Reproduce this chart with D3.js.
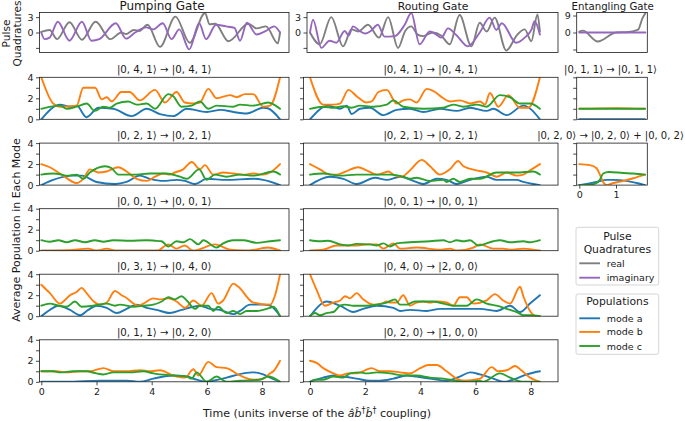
<!DOCTYPE html>
<html><head><meta charset="utf-8">
<script src="https://cdn.jsdelivr.net/npm/d3@7"></script>
<style>body{margin:0;background:#fff}</style>
</head><body>
<svg id="c" width="685" height="421" xmlns="http://www.w3.org/2000/svg"></svg>
<script>
// ---------------- DATA ----------------
const columnTitles = ["Pumping Gate", "Routing Gate", "Entangling Gate"];
const pumpTitles = ["|0, 4, 1⟩ → |0, 4, 1⟩", "|0, 2, 1⟩ → |0, 2, 1⟩", "|0, 0, 1⟩ → |0, 0, 1⟩", "|0, 3, 1⟩ → |0, 4, 0⟩", "|0, 1, 1⟩ → |0, 2, 0⟩"];
const routeTitles = ["|0, 4, 1⟩ → |0, 4, 1⟩", "|0, 2, 1⟩ → |0, 2, 1⟩", "|0, 0, 1⟩ → |0, 0, 1⟩", "|0, 4, 0⟩ → |2, 0, 0⟩", "|0, 2, 0⟩ → |1, 0, 0⟩"];
const entTitles = ["|0, 1, 1⟩ → |0, 1, 1⟩", "|0, 2, 0⟩ → |0, 2, 0⟩ + |0, 0, 2⟩"];
const popTicks = [0, 1, 2, 3, 4];
const popTickLabels = ["0", "", "2", "", "4"];
const pulseTicks = [-3, 0, 3];
const pulseTickLabels = ["", "0", "3"];
const entPulseTicks = [-9, 0, 9];
const entPulseTickLabels = ["", "0", "9"];
const timeTicks = [0, 2, 4, 6, 8];
const entTimeTicks = [0, 1];
const pulseLegend = ["real", "imaginary"];
const popLegend = ["mode a", "mode b", "mode c"];

// pulse quadratures [time, value]
const pumpReal = [[0,0.1],[0.3,0.5],[0.57,-1.3],[1.02,2.0],[1.47,-1.4],[1.97,2.1],[2.5,-1.3],[2.9,0.0],[3.07,-0.3],[3.35,0.5],[3.55,0.3],[3.85,1.5],[4.3,-2.8],[4.86,3.1],[5.38,-2.0],[5.93,3.8],[6.1,1.6],[6.3,1.7],[6.78,-1.7],[7.5,1.7],[7.8,0.8],[8.14,1.2],[8.57,-2.1],[8.65,0.0]];
const pumpImag = [[0,0],[0.12,-1.3],[0.3,-1.0],[0.6,2.1],[1.02,-1.6],[1.47,2.1],[1.82,-1.6],[2.1,-1.3],[2.7,1.8],[3.07,-1.2],[3.4,0.0],[3.8,1.0],[4.05,0.6],[4.4,1.8],[4.72,-1.3],[5.0,0.6],[5.36,-3.3],[5.72,1.8],[5.97,-1.3],[6.33,1.5],[6.69,1.2],[7.0,0.9],[7.2,-1.6],[7.45,1.9],[7.8,-0.4],[8.1,0.2],[8.44,1.2],[8.65,0]];
const routeReal = [[0,0],[0.35,-2.3],[0.77,3.0],[1.2,-2.7],[1.5,0.6],[1.75,0.2],[2.1,1.5],[2.5,-1.0],[2.83,3.0],[3.19,-3.0],[3.45,0.3],[3.67,1.2],[3.9,-0.4],[4.1,-0.7],[4.45,0.0],[4.75,-0.6],[5.06,-2.3],[5.42,3.4],[5.85,-2.7],[6.15,1.9],[6.4,0.2],[6.69,2.9],[7.11,-3.5],[7.5,-0.5],[7.78,0.6],[8.02,-1.7],[8.24,3.5],[8.33,0.2]];
const routeImag = [[0,0],[0.11,2.5],[0.41,-3.0],[0.71,-1.6],[0.95,-2.0],[1.26,0.3],[1.4,-0.6],[1.56,1.2],[1.8,0.3],[2.0,-0.2],[2.2,0.3],[2.46,1.5],[2.7,-0.8],[3.07,-0.7],[3.43,1.5],[3.67,3.8],[3.97,-2.3],[4.34,0.2],[4.6,-0.5],[4.76,-1.0],[5.0,0.8],[5.3,-0.5],[5.72,-2.7],[6.15,0.0],[6.51,2.9],[6.75,0.5],[6.95,1.8],[7.47,-2.0],[7.8,-0.9],[8.02,0.5],[8.14,2.2],[8.33,-0.4]];
const entReal = [[0,0.5],[0.1,1.0],[0.5,-4.8],[1.0,0.0],[1.35,0.3],[1.6,1.5],[1.72,7.5],[1.8,10.2]];
const entImag = [[0,0],[0.9,0],[1.8,0]];

// populations [time, value] — pumping gate
const pump1A = [[0,0],[0.68,1.4],[1.04,1.2],[1.28,1.3],[1.64,0.2],[2.07,1.1],[2.61,1.0],[3.27,0.3],[3.82,1.0],[4.3,0.5],[4.78,0.3],[5.27,1.0],[6.0,0.7],[6.5,0.9],[6.96,0.7],[7.44,0.55],[8.04,1.1],[8.2,1.05],[8.65,0]];
const pump1B = [[0,4.0],[0.43,1.5],[0.68,1.2],[1.28,1.3],[1.52,3.0],[1.95,3.0],[2.19,1.9],[2.37,2.1],[2.55,1.7],[2.9,2.6],[3.2,2.6],[3.57,1.8],[4.12,2.8],[4.48,1.6],[4.9,2.6],[5.2,1.6],[5.5,1.5],[5.75,1.6],[6.05,2.9],[6.35,2.0],[6.84,2.3],[7.08,2.1],[7.38,2.4],[7.68,2.4],[8.04,1.2],[8.29,1.3],[8.65,4.0]];
const pump1C = [[0,1.0],[0.68,1.3],[0.92,1.0],[1.28,1.2],[1.64,1.5],[1.94,0.8],[2.25,1.2],[2.49,1.1],[2.73,1.5],[3.15,1.7],[3.45,1.4],[3.82,1.5],[4.12,1.0],[4.6,2.4],[4.78,2.2],[5.08,1.2],[5.45,1.3],[5.75,1.7],[6.05,1.0],[6.35,1.3],[6.96,1.2],[7.2,1.4],[7.68,1.3],[8.22,1.6],[8.65,1.0]];
const pump2A = [[0,0],[0.43,0.5],[1.16,0.9],[1.46,0.9],[2.0,0.3],[2.67,0.1],[3.09,0.3],[3.57,0.9],[3.94,0.6],[4.42,0.4],[4.9,0.5],[5.2,0.4],[5.57,0.1],[5.99,0.6],[6.71,0.5],[7.68,0.6],[8.04,0.5],[8.65,0.0]];
const pump2B = [[0,2.0],[0.31,1.7],[0.74,1.0],[1.28,0.2],[1.52,0.6],[1.76,1.5],[2.07,1.2],[2.37,1.3],[2.79,1.7],[3.09,1.3],[3.45,0.6],[3.82,0.4],[4.12,0.8],[4.42,1.1],[4.66,1.0],[4.84,1.2],[5.14,1.5],[5.45,2.2],[5.75,1.5],[5.93,1.9],[6.23,1.0],[6.59,1.2],[6.96,1.1],[7.32,1.0],[7.68,1.1],[8.04,1.0],[8.29,1.2],[8.65,2.0]];
const pump2C = [[0,1.0],[0.43,1.1],[0.74,1.0],[0.92,0.9],[1.28,1.0],[1.52,0.6],[1.76,1.2],[2.31,1.8],[2.55,1.6],[2.79,1.0],[3.33,1.0],[3.94,1.1],[4.54,1.1],[5.02,0.8],[5.27,0.6],[5.72,1.5],[5.99,0.5],[6.29,1.0],[6.71,0.8],[7.2,1.0],[7.68,0.9],[8.41,1.3],[8.65,1.0]];
const pump3A = [[0,0],[4.3,0],[8.65,0]];
const pump3B = [[0,0],[1.0,0.05],[1.7,0.2],[2.0,0.0],[2.37,0.2],[2.7,0.0],[4.2,0.0],[4.6,0.6],[4.9,0.2],[5.2,0.5],[5.5,0.0],[6.3,0.6],[6.84,0.1],[7.5,0.0],[8.2,0.3],[8.65,0]];
const pump3C = [[0,1.0],[0.31,0.85],[0.62,1.0],[0.92,0.8],[1.22,1.0],[1.58,0.8],[1.94,1.0],[2.25,0.85],[2.61,1.0],[3.2,0.95],[3.82,1.0],[4.12,0.95],[4.36,0.9],[4.6,0.4],[4.9,0.9],[5.14,0.8],[5.39,1.1],[5.69,0.6],[5.87,1.0],[6.35,0.3],[6.59,0.7],[6.96,1.0],[7.32,1.0],[7.8,0.75],[8.29,0.9],[8.65,1.0]];
const pump4A = [[0,0],[0.43,0.8],[0.62,1.0],[1.04,0.6],[1.4,0.1],[1.7,0.6],[2.0,1.0],[2.37,0.8],[2.73,0.3],[3.09,0.7],[3.46,1.1],[3.82,0.8],[4.18,0.6],[4.66,0.3],[5.08,0.6],[5.51,0.9],[5.75,1.0],[6.11,0.7],[6.47,0.6],[6.96,0.2],[7.2,0.5],[7.56,1.1],[8.04,1.1],[8.29,1.0],[8.65,0.0]];
const pump4B = [[0,3.0],[0.31,2.2],[0.68,1.2],[0.8,1.4],[1.04,2.0],[1.28,2.3],[1.46,2.7],[1.64,2.2],[1.9,1.4],[2.13,1.1],[2.37,1.3],[2.67,2.4],[2.91,2.0],[3.05,1.8],[3.51,1.0],[3.7,1.2],[4.06,1.7],[4.3,1.6],[4.6,1.7],[4.9,1.4],[5.21,0.8],[5.51,1.5],[5.81,1.0],[6.17,2.2],[6.41,1.2],[6.59,1.5],[6.96,3.1],[7.14,2.8],[7.68,1.3],[8.29,1.1],[8.47,2.0],[8.65,4.0]];
const pump4C = [[0,1.0],[0.31,1.2],[0.62,1.0],[0.92,0.9],[1.22,1.4],[1.46,0.9],[1.88,1.0],[2.37,1.2],[2.67,1.0],[2.85,1.1],[3.33,0.9],[3.7,1.0],[4.06,1.1],[4.36,1.4],[4.6,1.8],[4.84,1.6],[5.08,1.9],[5.27,1.5],[5.57,0.7],[5.75,1.0],[6.05,1.0],[6.23,0.5],[6.41,0.9],[6.71,0.3],[6.96,0.5],[7.2,0.2],[7.44,0.5],[7.8,0.5],[8.29,0.8],[8.41,0.9],[8.65,0]];
const pump5A = [[0,0],[0.92,0.0],[2.13,0.1],[3.09,0.1],[3.57,0.0],[4.06,0.3],[4.78,0.6],[5.27,0.5],[5.63,0.2],[5.99,0.0],[6.23,0.1],[6.71,0.4],[7.32,0.8],[7.68,0.9],[8.04,0.7],[8.29,0.4],[8.65,0]];
const pump5B = [[0,1.0],[0.56,1.0],[0.92,0.9],[1.4,1.0],[1.76,1.0],[2.25,1.3],[2.61,1.0],[3.09,1.0],[3.57,1.1],[3.94,1.0],[4.3,1.1],[4.78,0.6],[5.21,0.4],[5.51,1.2],[5.69,0.6],[6.05,1.9],[6.35,1.4],[6.71,1.3],[7.2,0.6],[7.68,0.2],[8.04,0.3],[8.29,0.8],[8.41,1.0],[8.65,2.0]];
const pump5C = [[0,1.0],[0.43,1.0],[0.68,0.9],[1.16,1.0],[1.64,1.0],[2.0,0.8],[2.25,0.7],[2.61,0.9],[3.21,0.9],[3.7,1.0],[4.06,0.8],[4.78,0.6],[5.27,0.5],[5.45,0.3],[5.63,0.9],[5.99,0.0],[6.35,0.5],[6.71,0.0],[7.2,0.1],[7.92,0.2],[8.22,0.5],[8.65,0.0]];

// populations — routing gate
const route1A = [[0,0],[0.66,1.3],[1.09,1.0],[1.33,1.3],[1.51,0.5],[1.81,1.0],[2.17,1.1],[2.66,0.4],[3.14,0.9],[3.62,1.0],[4.11,0.7],[4.71,1.0],[5.31,0.8],[5.8,1.1],[6.4,0.8],[6.64,1.0],[7.13,0.4],[7.73,1.3],[8.33,0]];
const route1B = [[0,4.0],[0.48,1.4],[0.85,1.4],[1.09,1.5],[1.39,2.8],[1.69,2.2],[2.05,1.6],[2.23,1.7],[2.48,2.6],[2.78,2.8],[3.14,1.5],[3.38,1.8],[3.62,1.9],[3.86,1.6],[4.23,2.9],[4.53,2.6],[4.83,2.0],[5.07,1.7],[5.43,1.8],[5.8,1.5],[6.16,1.7],[6.34,1.4],[6.52,2.5],[6.82,1.2],[7.19,2.3],[7.61,1.1],[7.91,1.1],[8.33,4.0]];
const route1C = [[0,1.0],[0.48,1.2],[0.85,1.1],[1.21,1.25],[1.51,1.1],[1.81,1.3],[2.29,1.2],[2.78,1.4],[3.02,1.8],[3.38,1.2],[4.11,1.0],[4.83,1.1],[5.19,1.4],[5.56,1.2],[6.04,1.4],[6.4,1.2],[6.88,2.3],[7.25,2.1],[7.61,1.5],[7.97,1.5],[8.33,1.0]];
const route2A = [[0,0],[0.72,0.8],[1.21,0.6],[1.69,0.1],[2.36,0.7],[2.78,0.5],[3.26,0.8],[3.74,0.4],[4.11,0.1],[4.59,0.6],[4.95,0.5],[5.31,0.1],[5.8,0.5],[6.4,0.8],[6.76,0.5],[7.49,0.5],[7.73,0.3],[8.33,0]];
const route2B = [[0,2.0],[0.36,1.5],[0.72,1.0],[0.97,1.0],[1.21,1.2],[1.75,1.7],[2.05,1.4],[2.42,1.0],[2.84,1.3],[3.02,1.0],[3.32,0.8],[3.62,1.4],[4.05,2.4],[4.35,1.8],[4.71,1.0],[5.07,1.5],[5.37,2.3],[5.56,1.8],[6.04,1.4],[6.4,1.2],[6.76,0.8],[7.13,1.2],[7.49,0.9],[7.73,1.0],[8.03,1.5],[8.33,2.0]];
const route2C = [[0,1.0],[0.48,1.1],[1.09,0.9],[1.69,1.0],[2.42,1.0],[2.9,1.0],[3.38,0.8],[3.62,0.6],[3.86,0.7],[4.35,0.4],[4.83,0.5],[4.95,0.3],[5.19,0.6],[5.43,0.3],[5.8,0.6],[6.16,0.6],[6.76,1.2],[7.49,1.2],[8.09,1.3],[8.33,1.0]];
const route3A = [[0,0],[4.2,0],[8.33,0]];
const route3B = [[0,0],[0.48,0.1],[0.97,0.5],[1.21,0.5],[1.69,0.5],[2.17,0.6],[2.42,0.6],[2.66,0.2],[3.02,0.7],[3.26,0.2],[3.86,0.3],[4.71,0.1],[5.07,0.2],[5.31,0],[5.92,0.3],[6.16,0.6],[6.64,0.2],[7.0,0.2],[7.25,0.1],[7.73,0.2],[8.09,0.1],[8.33,0]];
const route3C = [[0,1.0],[0.36,0.9],[0.66,0.95],[1.09,0.6],[1.39,0.5],[1.69,0.65],[2.17,0.6],[2.42,0.5],[2.66,0.7],[2.9,0.4],[3.14,0.7],[3.62,0.8],[4.35,0.9],[4.83,1.0],[5.07,0.8],[5.31,1.0],[5.56,0.9],[5.8,1.0],[6.1,0.5],[6.64,0.9],[6.88,1.0],[7.25,0.8],[7.73,0.9],[7.97,0.8],[8.33,1.0]];
const route4A = [[0,0],[0.48,1.3],[0.6,1.4],[1.09,1.0],[1.57,0.4],[1.93,0.7],[2.42,1.0],[3.02,0.8],[3.26,0.5],[3.62,0.6],[4.23,0.5],[4.71,0.7],[5.31,0.7],[5.8,0.7],[6.16,0.7],[6.76,0.5],[7.25,1.0],[7.61,0.4],[7.97,1.2],[8.33,2.0]];
const route4B = [[0,4.0],[0.24,2.5],[0.54,1.0],[0.85,1.3],[1.09,1.5],[1.27,1.9],[1.45,1.7],[1.69,2.2],[1.93,1.6],[2.29,1.1],[2.6,1.2],[2.78,1.4],[2.9,1.3],[3.14,1.3],[3.38,2.0],[3.62,1.0],[3.86,1.3],[4.11,1.4],[4.35,1.3],[4.59,1.4],[4.95,1.3],[5.19,1.0],[5.43,1.8],[5.68,1.8],[5.92,1.2],[6.4,1.5],[6.7,2.1],[7.0,1.5],[7.25,1.2],[7.61,2.8],[7.73,1.9],[7.97,0.5],[8.21,0.0],[8.33,0.0]];
const route4C = [[0,0],[0.18,0.3],[0.36,0.1],[0.6,0.3],[0.85,0.4],[1.09,1.0],[1.27,1.1],[1.57,1.0],[2.05,1.0],[2.42,1.1],[2.78,1.3],[3.08,1.6],[3.26,1.1],[3.5,1.1],[3.8,1.4],[4.11,1.4],[4.47,1.4],[4.83,1.2],[5.19,1.0],[5.68,1.0],[6.04,1.6],[6.4,1.2],[6.76,1.0],[7.25,0.6],[7.49,0.4],[7.73,0.1],[7.97,0.1],[8.33,0]];
const route5A = [[0,0],[0.48,0.4],[0.85,0.6],[1.21,0.5],[1.69,0.3],[2.17,0.1],[2.54,0.1],[3.02,0.3],[3.5,0.6],[3.86,0.5],[4.35,0.3],[4.95,0.1],[5.43,0.5],[5.8,0.9],[6.16,0.7],[6.64,0.3],[7.0,0.0],[7.37,0.2],[7.85,0.7],[8.33,1.0]];
const route5B = [[0,2.0],[0.24,1.8],[0.48,1.3],[0.85,0.8],[1.09,0.6],[1.39,0.8],[1.69,0.8],[2.23,1.3],[2.54,1.0],[2.9,1.0],[3.26,0.9],[3.62,0.8],[3.99,1.3],[4.29,1.6],[4.59,1.6],[4.95,1.0],[5.31,0.3],[5.56,0.1],[6.16,0.3],[6.58,1.4],[6.82,1.0],[7.13,1.1],[7.43,1.5],[7.61,1.2],[7.97,0.4],[8.33,0.0]];
const route5C = [[0,0],[0.18,0.2],[0.48,0.2],[0.85,0.5],[1.21,0.4],[1.45,0.8],[1.81,0.9],[2.05,0.8],[2.42,0.9],[2.9,0.8],[3.38,0.6],[3.86,0.6],[4.35,0.4],[4.83,0.3],[5.31,0.1],[5.68,0.0],[6.16,0.1],[6.28,0.0],[6.88,0.8],[7.25,0.4],[7.73,0.0],[8.33,0.0]];

// populations — entangling gate
const ent1A = [[0,0],[0.9,0],[1.79,0]];
const ent1B = [[0,1.0],[0.5,1.03],[1.0,1.05],[1.5,1.02],[1.79,1.0]];
const ent1C = [[0,1.0],[0.9,1.0],[1.79,1.0]];
const ent2A = [[0,0],[0.2,0.1],[0.47,0.3],[0.75,0.5],[0.93,0.5],[1.29,0.4],[1.56,0.2],[1.79,0.0]];
const ent2B = [[0,2.0],[0.29,1.9],[0.47,1.6],[0.56,1.0],[0.65,0.3],[0.75,0.0],[0.93,0.2],[1.2,0.4],[1.47,0.65],[1.65,0.85],[1.79,1.0]];
const ent2C = [[0,0],[0.29,0.05],[0.47,0.2],[0.56,0.5],[0.65,1.1],[0.8,1.25],[1.2,1.15],[1.47,1.1],[1.79,1.0]];

// ---------------- LAYOUT / STYLE ----------------
const FONT = "DejaVu Sans, sans-serif";
const INK = "#1a1a1a";
const COL = {a:"#1f77b4", b:"#ff7f0e", c:"#2ca02c", real:"#7f7f7f", imag:"#9467bd"};
const rowTop = [12.5, 77.3, 143.1, 208.7, 274.2, 339.8];
const pulseH = 40, popH = 42;
const colTitleSize = [12, 10.8, 10.2];
const LW = 1.9;

const svg = d3.select("#c");
const defs = svg.append("defs");
let clipN = 0;

function panel(o){
  const g = svg.append("g");
  const [x0, x1] = o.x.range();
  const [yb, yt] = o.y.range();
  const id = "cl" + (clipN++);
  defs.append("clipPath").attr("id", id).append("rect")
    .attr("x", x0).attr("y", yt).attr("width", x1 - x0).attr("height", yb - yt);
  const line = d3.line().x(d => o.x(d[0])).y(d => o.y(d[1])).curve(d3.curveMonotoneX);
  const lg = g.append("g").attr("clip-path", `url(#${id})`);
  o.lines.forEach(s => lg.append("path").attr("d", line(s.data))
    .attr("fill", "none").attr("stroke", s.color).attr("stroke-width", LW)
    .attr("stroke-linejoin", "round").attr("stroke-linecap", "round"));
  const ya = d3.axisLeft(o.y).tickValues(o.yTicks).tickSize(3.5).tickPadding(2.5)
    .tickFormat((d, i) => o.yLabels ? o.yLabels[i] : "");
  const yg = g.append("g").attr("transform", `translate(${x0},0)`).call(ya);
  styleAxis(yg);
  if (o.xTicks) {
    const xa = d3.axisBottom(o.x).tickValues(o.xTicks).tickSize(3.5).tickPadding(3)
      .tickFormat(d => String(d));
    const xg = g.append("g").attr("transform", `translate(0,${yb})`).call(xa);
    styleAxis(xg);
  }
  g.append("rect").attr("x", x0).attr("y", yt).attr("width", x1 - x0).attr("height", yb - yt)
    .attr("fill", "none").attr("stroke", INK).attr("stroke-width", 0.8);
  if (o.title) {
    g.append("text").attr("x", o.titleX != null ? o.titleX : (x0 + x1) / 2).attr("y", yt - o.titleGap)
      .attr("text-anchor", "middle").attr("font-family", FONT).attr("font-size", o.titleSize)
      .attr("fill", INK).text(o.title);
  }
}
function styleAxis(ag){
  ag.attr("font-family", FONT).attr("font-size", 9.5);
  ag.select(".domain").remove();
  ag.selectAll(".tick line").attr("stroke", INK).attr("stroke-width", 0.8);
  ag.selectAll(".tick text").attr("fill", INK);
}

const columns = [
  {x0: 39.5, x1: 289, xt0: 39.5, zeroX: 41.3, unit: 27.6, titles: pumpTitles, titleX: 162, rowTitleX: null, rowTitleSize: 10.2,
   pulse: [pumpReal, pumpImag], pulseTicks, pulseLabels: pulseTickLabels, pulseDom: [-3.9, 3.9],
   pops: [[pump1A,pump1B,pump1C],[pump2A,pump2B,pump2C],[pump3A,pump3B,pump3C],[pump4A,pump4B,pump4C],[pump5A,pump5B,pump5C]],
   popLabels: popTickLabels, xTicks: timeTicks},
  {x0: 303.5, x1: 558, xt0: 307, zeroX: 310, unit: 27.6, titles: routeTitles, titleX: 433, rowTitleX: null, rowTitleSize: 10.2,
   pulse: [routeReal, routeImag], pulseTicks, pulseLabels: pulseTickLabels, pulseDom: [-3.9, 3.9],
   pops: [[route1A,route1B,route1C],[route2A,route2B,route2C],[route3A,route3B,route3C],[route4A,route4B,route4C],[route5A,route5B,route5C]],
   popLabels: null, xTicks: timeTicks},
  {x0: 576.7, x1: 647.3, xt0: 576.7, zeroX: 579.3, unit: 36.7, titles: entTitles, titleX: 612.7, rowTitleX: 610.5, rowTitleSize: 10,
   pulse: [entReal, entImag], pulseTicks: entPulseTicks, pulseLabels: entPulseTickLabels, pulseDom: [-10.6, 10.6],
   pops: [[ent1A,ent1B,ent1C],[ent2A,ent2B,ent2C]],
   popLabels: null, xTicks: entTimeTicks}
];

columns.forEach((c, ci) => {
  const mkX = (px0) => d3.scaleLinear()
    .domain([(px0 - c.zeroX) / c.unit, (c.x1 - c.zeroX) / c.unit]).range([px0, c.x1]);
  const yP = d3.scaleLinear().domain(c.pulseDom).range([rowTop[0] + pulseH, rowTop[0]]);
  panel({x: mkX(c.xt0), y: yP, yTicks: c.pulseTicks, yLabels: c.pulseLabels,
    lines: [{data: c.pulse[0], color: COL.real}, {data: c.pulse[1], color: COL.imag}],
    title: columnTitles[ci], titleGap: 2.6, titleSize: colTitleSize[ci], titleX: c.titleX});
  c.pops.forEach((p, ri) => {
    const top = rowTop[ri + 1];
    const yy = d3.scaleLinear().domain([0, 4]).range([top + popH, top]);
    const last = ri === c.pops.length - 1;
    panel({x: mkX(c.x0), y: yy, yTicks: popTicks, yLabels: c.popLabels,
      lines: [{data: p[0], color: COL.a}, {data: p[1], color: COL.b}, {data: p[2], color: COL.c}],
      xTicks: last ? c.xTicks : null, title: c.titles[ri], titleGap: 4, titleSize: c.rowTitleSize,
      titleX: c.rowTitleX});
  });
});

// axis labels
function vlabel(x, y, txt, size){
  svg.append("text").attr("transform", `translate(${x},${y}) rotate(-90)`)
    .attr("text-anchor", "middle").attr("dominant-baseline", "central")
    .attr("font-family", FONT).attr("font-size", size).attr("fill", INK).text(txt);
}
vlabel(6, 33.5, "Pulse", 10.6);
vlabel(16.5, 33.5, "Quadratures", 10.6);
vlabel(16.5, 230, "Average Population in Each Mode", 11);

const xl = svg.append("text").attr("x", 317).attr("y", 417).attr("text-anchor", "middle")
  .attr("font-family", FONT).attr("font-size", 11).attr("fill", INK);
xl.append("tspan").text("Time (units inverse of the ");
xl.append("tspan").attr("font-style", "italic").text("â");
xl.append("tspan").attr("font-style", "italic").text("b\u0302");
xl.append("tspan").attr("font-size", 8).attr("dy", -4.5).text("†");
xl.append("tspan").attr("font-style", "italic").attr("dy", 4.5).text("b\u0302");
xl.append("tspan").attr("font-size", 8).attr("dy", -4.5).text("†");
xl.append("tspan").attr("dy", 4.5).text(" coupling)");

// legends
function legend(x, y, w, h, titleLines, titleYs, items, itemYs){
  const g = svg.append("g");
  g.append("rect").attr("x", x).attr("y", y).attr("width", w).attr("height", h).attr("rx", 2)
    .attr("fill", "#fff").attr("stroke", "#d0d0d0").attr("stroke-width", 0.9);
  titleLines.forEach((t, i) => g.append("text").attr("x", x + w / 2).attr("y", titleYs[i])
    .attr("text-anchor", "middle").attr("dominant-baseline", "central")
    .attr("font-family", FONT).attr("font-size", 10.8).attr("fill", INK).text(t));
  items.forEach((it, i) => {
    g.append("line").attr("x1", x + 3.3).attr("x2", x + 24).attr("y1", itemYs[i]).attr("y2", itemYs[i])
      .attr("stroke", it.color).attr("stroke-width", LW);
    g.append("text").attr("x", x + 30.7).attr("y", itemYs[i]).attr("dominant-baseline", "central")
      .attr("font-family", FONT).attr("font-size", 9.5).attr("fill", INK).text(it.label);
  });
}
legend(576, 227.3, 82.7, 57.7, ["Pulse", "Quadratures"], [236.7, 249],
  [{label: pulseLegend[0], color: COL.real}, {label: pulseLegend[1], color: COL.imag}], [263.3, 277.7]);
legend(576, 294, 82.7, 60.3, ["Populations"], [301.7],
  [{label: popLegend[0], color: COL.a}, {label: popLegend[1], color: COL.b}, {label: popLegend[2], color: COL.c}],
  [318.3, 331.9, 346]);
</script>
</body></html>
